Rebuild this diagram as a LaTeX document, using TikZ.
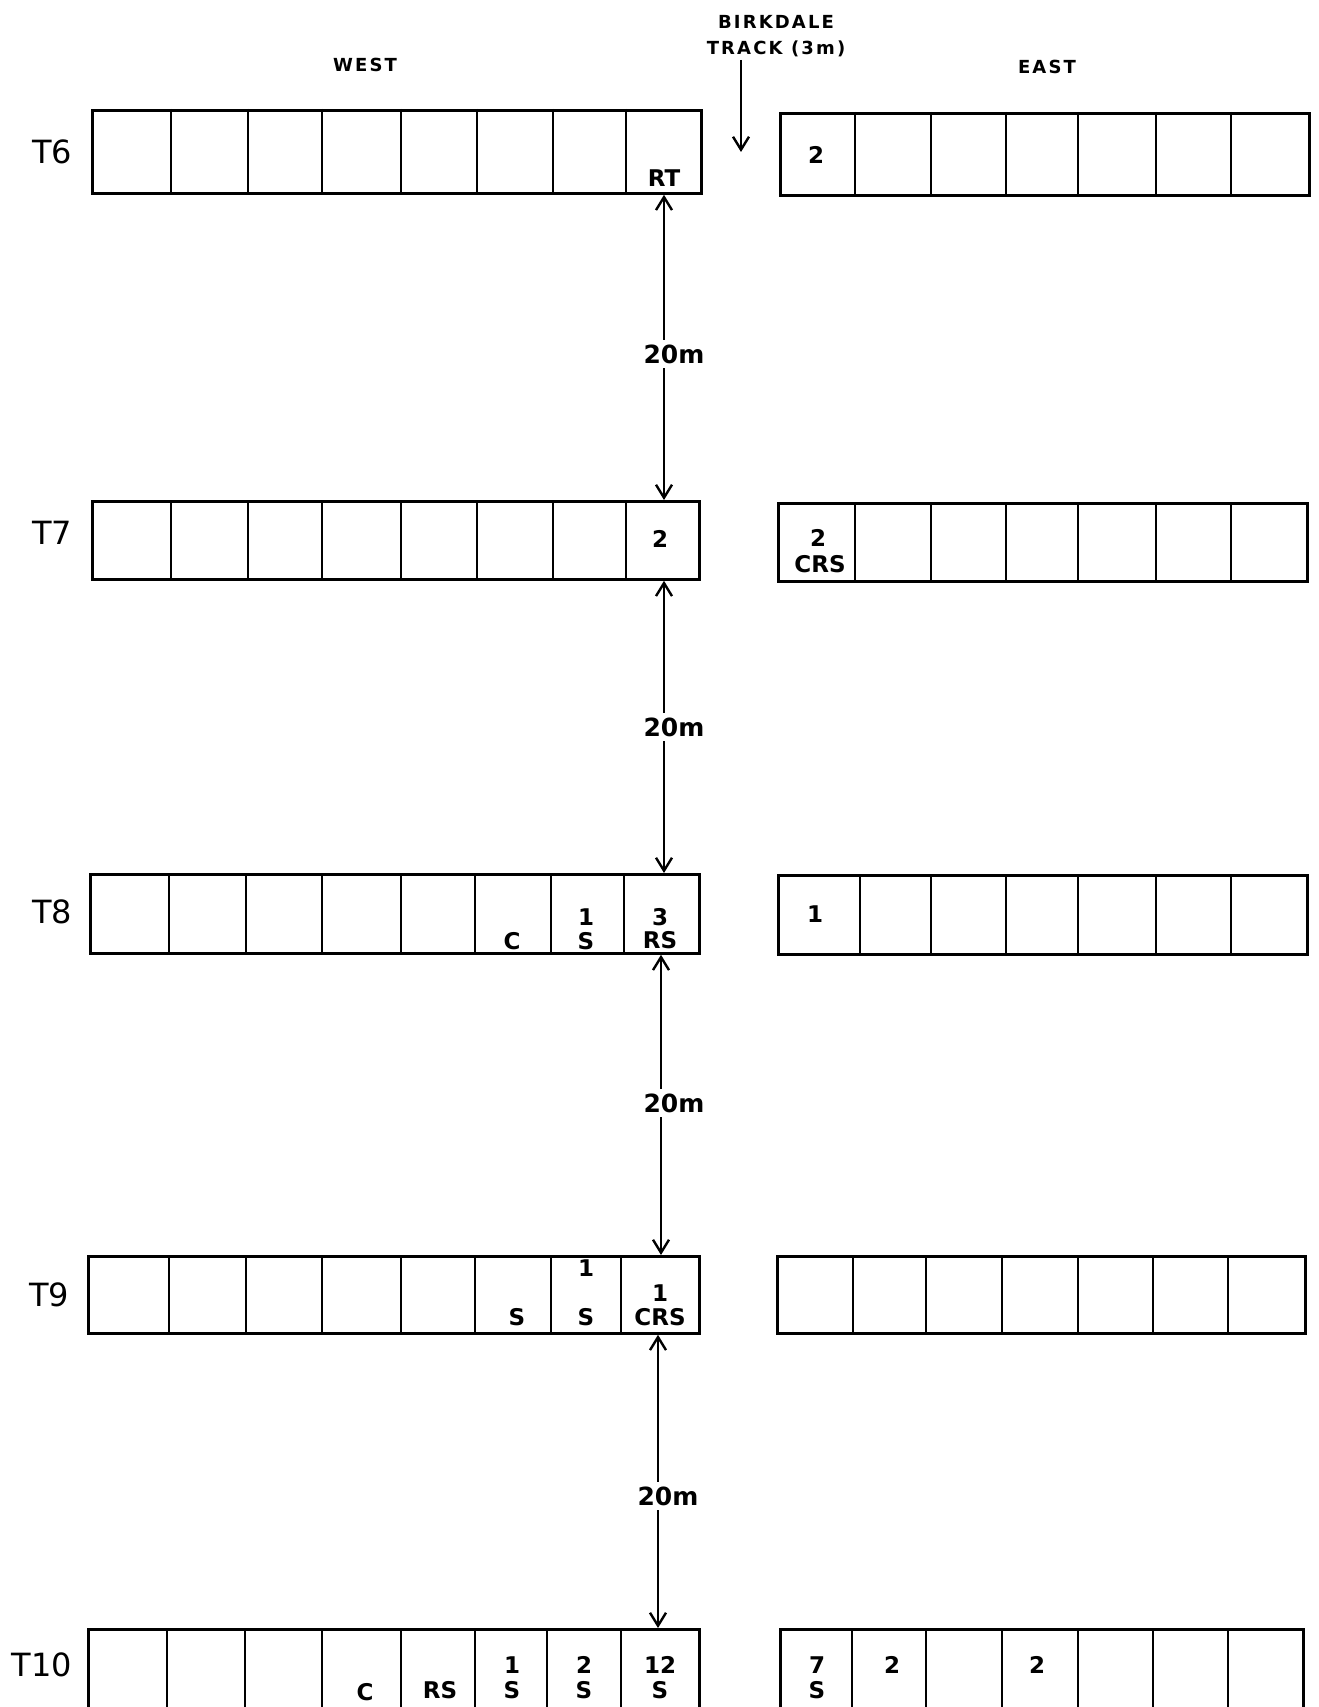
\documentclass[tikz,border=0pt]{standalone}
\usepackage{fontspec}
\setmainfont{DejaVu Sans}
\usetikzlibrary{arrows.meta}
\tikzset{
  row/.style={draw, line width=2.8pt, rectangle, inner sep=0pt, anchor=north west},
  cellline/.style={line width=2.4pt},
  dim/.style={line width=2.4pt, {Straight Barb[length=13pt,width=16pt,line width=2.4pt]}-{Straight Barb[length=13pt,width=16pt,line width=2.4pt]}},
  lbl/.style={font=\bfseries\fontsize{23}{25}\selectfont, inner sep=1pt},
  tlbl/.style={font=\fontsize{32}{34}\selectfont},
  head/.style={font=\bfseries\fontsize{18}{26}\selectfont\addfontfeature{LetterSpace=12}},
  dimlbl/.style={font=\bfseries\fontsize{25}{28}\selectfont, fill=white, inner sep=5pt}
}
\begin{document}
\begin{tikzpicture}[x=1pt,y=-1pt]
\useasboundingbox (0,0) rectangle (1318,1707);
\clip (0,0) rectangle (1318,1707);
\fill[white] (0,0) rectangle (1318,1707);

% headings
\node[head] (west) at (365,65) {WEST};
\node[head] (east) at (1047,67) {EAST};
\node[head, align=center] (birk) at (776,36) {BIRKDALE\\TRACK (3m)};
\coordinate (trk) at (741,152);
\draw[line width=2.4pt, -{Straight Barb[length=13pt,width=16pt,line width=2.4pt]}] (741,60) -- (trk);

% row labels
\node[tlbl] (t6) at (52,152) {T6};
\node[tlbl] (t7) at (52,533) {T7};
\node[tlbl] (t8) at (52,912) {T8};
\node[tlbl] (t9) at (49,1295) {T9};
\node[tlbl] (t10) at (42,1665) {T10};

% T6
\node[row, minimum width=609pt, minimum height=83pt] (w6) at (91,109) {};
\foreach \x in {171,248,322,401,477,553,626} \draw[cellline] (\x,109) -- (\x,192);
\node[row, minimum width=529pt, minimum height=82pt] (e6) at (779,112) {};
\foreach \x in {855,931,1006,1078,1156,1231} \draw[cellline] (\x,112) -- (\x,194);
\node[lbl] (w6c8) at (664,178) {RT};
\node[lbl] (e6c1) at (816,155) {2};

% T7
\node[row, minimum width=607pt, minimum height=78pt] (w7) at (91,500) {};
\foreach \x in {171,248,322,401,477,553,626} \draw[cellline] (\x,500) -- (\x,578);
\node[row, minimum width=529pt, minimum height=78pt] (e7) at (777,502) {};
\foreach \x in {855,931,1006,1078,1156,1231} \draw[cellline] (\x,502) -- (\x,580);
\node[lbl] (w7c8) at (660,539) {2};
\node[lbl] (e7a) at (818,538) {2};
\node[lbl] (e7b) at (820,564) {CRS};

% T8
\node[row, minimum width=609pt, minimum height=79pt] (w8) at (89,873) {};
\foreach \x in {169,246,322,401,475,551,624} \draw[cellline] (\x,873) -- (\x,952);
\node[row, minimum width=529pt, minimum height=79pt] (e8) at (777,874) {};
\foreach \x in {860,931,1006,1078,1156,1231} \draw[cellline] (\x,874) -- (\x,953);
\node[lbl] (w8c6) at (512,941) {C};
\node[lbl] (w8c7a) at (586,917) {1};
\node[lbl] (w8c7b) at (586,941) {S};
\node[lbl] (w8c8a) at (660,917) {3};
\node[lbl] (w8c8b) at (660,940) {RS};
\node[lbl] (e8c1) at (815,914) {1};

% T9
\node[row, minimum width=611pt, minimum height=77pt] (w9) at (87,1255) {};
\foreach \x in {169,246,322,401,475,551,621} \draw[cellline] (\x,1255) -- (\x,1332);
\node[row, minimum width=528pt, minimum height=77pt] (e9) at (776,1255) {};
\foreach \x in {853,926,1002,1078,1153,1228} \draw[cellline] (\x,1255) -- (\x,1332);
\node[lbl] (w9c6) at (517,1317) {S};
\node[lbl] (w9c7a) at (586,1268) {1};
\node[lbl] (w9c7b) at (586,1317) {S};
\node[lbl] (w9c8a) at (660,1293) {1};
\node[lbl] (w9c8b) at (660,1317) {CRS};

% T10
\node[row, minimum width=611pt, minimum height=120pt] (w10) at (87,1628) {};
\foreach \x in {167,245,322,401,475,547,621} \draw[cellline] (\x,1628) -- (\x,1748);
\node[row, minimum width=523pt, minimum height=120pt] (e10) at (779,1628) {};
\foreach \x in {852,926,1002,1078,1153,1228} \draw[cellline] (\x,1628) -- (\x,1748);
\node[lbl] (w10c4) at (365,1692) {C};
\node[lbl] (w10c5) at (440,1690) {RS};
\node[lbl] (w10c6a) at (512,1665) {1};
\node[lbl] (w10c6b) at (512,1690) {S};
\node[lbl] (w10c7a) at (584,1665) {2};
\node[lbl] (w10c7b) at (584,1690) {S};
\node[lbl] (w10c8a) at (660,1665) {12};
\node[lbl] (w10c8b) at (660,1690) {S};
\node[lbl] (e10c1a) at (817,1665) {7};
\node[lbl] (e10c1b) at (817,1690) {S};
\node[lbl] (e10c2) at (892,1665) {2};
\node[lbl] (e10c4) at (1037,1665) {2};

% distances
\draw[dim] (w6.south -| 664,0) -- (w7.north -| 664,0);
\node[dimlbl] (d1) at (674,354) {20m};
\draw[dim] (w7.south -| 664,0) -- (w8.north -| 664,0);
\node[dimlbl] (d2) at (674,727) {20m};
\draw[dim] (w8.south -| 661,0) -- (w9.north -| 661,0);
\node[dimlbl] (d3) at (674,1103) {20m};
\draw[dim] (w9.south -| 658,0) -- (w10.north -| 658,0);
\node[dimlbl] (d4) at (668,1496) {20m};
\end{tikzpicture}
\end{document}
